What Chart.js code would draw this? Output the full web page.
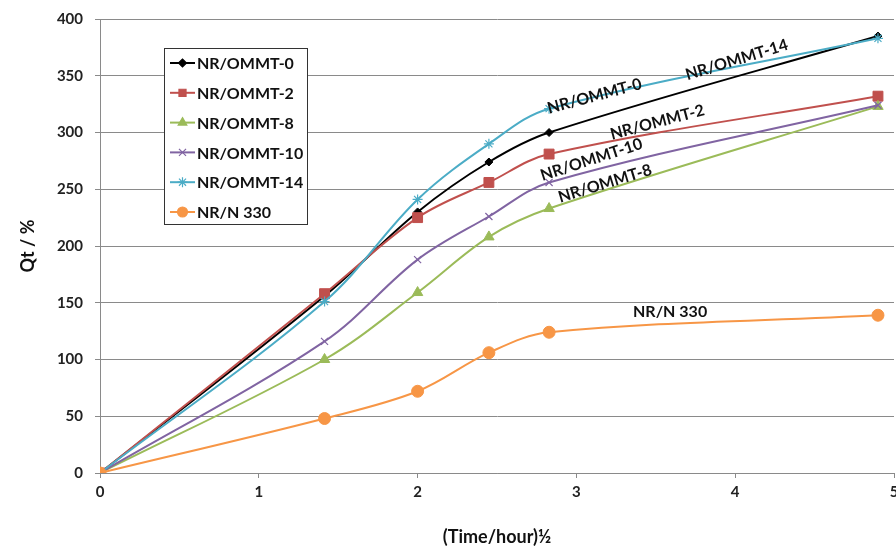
<!DOCTYPE html>
<html>
<head>
<meta charset="utf-8">
<script src="https://cdn.jsdelivr.net/npm/chart.js@4/dist/chart.umd.min.js"></script>
<style>
  html, body { margin: 0; padding: 0; background: #ffffff; overflow: hidden; }
  #wrap { width: 896px; height: 548px; position: relative; overflow: hidden; }
  #c { position: absolute; left: 0; top: 0; }
</style>
</head>
<body>
<div id="wrap"><canvas id="c" width="902" height="548"></canvas></div>
<script>
// ---- data ----
const xValues = [0, 1.414, 2, 2.449, 2.828, 4.899];
const seriesNames = ["NR/OMMT-0", "NR/OMMT-2", "NR/OMMT-8", "NR/OMMT-10", "NR/OMMT-14", "NR/N 330"];
const ommt0  = [0, 156, 230, 274, 300, 385];
const ommt2  = [0, 158, 225, 256, 281, 332];
const ommt8  = [0, 100, 159, 208, 233, 323];
const ommt10 = [0, 116, 188, 226, 256, 324];
const ommt14 = [0, 151, 241, 290, 321, 383];
const n330   = [0, 48, 72, 106, 124, 139];
const yTicks = [0, 50, 100, 150, 200, 250, 300, 350, 400];
const xTicks = [0, 1, 2, 3, 4, 5];
// in-chart labels (data coordinates)
const noteTexts = ["NR/OMMT-14", "NR/OMMT-0", "NR/OMMT-2", "NR/OMMT-10", "NR/OMMT-8", "NR/N 330"];
const noteX     = [4.01, 3.114, 3.51, 3.095, 3.18, 3.59];
const noteY     = [364, 332, 309, 276, 255, 142];
const noteAngle = [-17, -15, -15, -18, -17, 0];

// ---- styles ----
const colors = ["#000000", "#C0504D", "#9BBB59", "#8064A2", "#4BACC6", "#F79646"];
const styles = ["rectRot", "rect", "triangle", "crossRot", "star", "circle"];
const radii  = [4, 7, 6, 5, 5, 6];
const values = [ommt0, ommt2, ommt8, ommt10, ommt14, n330];

const datasets = values.map((vals, i) => ({
  label: seriesNames[i],
  data: xValues.map((x, j) => ({ x: x, y: vals[j] })),
  borderColor: colors[i],
  backgroundColor: colors[i],
  pointBackgroundColor: colors[i],
  pointBorderColor: colors[i],
  pointStyle: styles[i],
  pointRadius: radii[i],
  pointBorderWidth: (styles[i] === "crossRot" || styles[i] === "star") ? 1.2 : 1,
  borderWidth: 2,
  tension: 0.35,
  fill: false,
  order: 6 - i
}));

const FONT = "Lato, 'Open Sans', 'DejaVu Sans', sans-serif";

const notesPlugin = {
  id: "notes",
  afterDatasetsDraw(chart) {
    const ctx = chart.ctx;
    const xs = chart.scales.x, ys = chart.scales.y;
    ctx.save();
    ctx.font = "bold 16px " + FONT;
    ctx.fillStyle = "#111";
    ctx.textAlign = "center";
    ctx.textBaseline = "middle";
    noteTexts.forEach((t, i) => {
      const px = xs.getPixelForValue(noteX[i]);
      const py = ys.getPixelForValue(noteY[i]);
      ctx.save();
      ctx.translate(px, py);
      ctx.rotate(noteAngle[i] * Math.PI / 180);
      ctx.fillText(t, 0, 0);
      ctx.restore();
    });
    ctx.restore();
  }
};

const legendPlugin = {
  id: "boxLegend",
  afterDatasetsDraw(chart) {
    const ctx = chart.ctx;
    const bx = 164, by = 48, bw = 143, bh = 176;
    ctx.save();
    ctx.fillStyle = "#ffffff";
    ctx.fillRect(bx, by, bw, bh);
    ctx.strokeStyle = "#333";
    ctx.lineWidth = 1;
    ctx.strokeRect(bx + 0.5, by + 0.5, bw, bh);
    seriesNames.forEach((name, i) => {
      const cy = by + 15 + i * 29.8;
      ctx.strokeStyle = colors[i];
      ctx.lineWidth = 2;
      ctx.beginPath();
      ctx.moveTo(bx + 6, cy);
      ctx.lineTo(bx + 31, cy);
      ctx.stroke();
      ctx.fillStyle = colors[i];
      ctx.strokeStyle = colors[i];
      ctx.lineWidth = 1.2;
      Chart.helpers.drawPoint(ctx, {
        pointStyle: styles[i],
        radius: Math.min(radii[i], 5),
        rotation: 0,
        borderWidth: 1.2
      }, bx + 18.5, cy);
      ctx.fillStyle = "#111";
      ctx.font = "bold 16px " + FONT;
      ctx.textAlign = "left";
      ctx.textBaseline = "middle";
      ctx.fillText(name, bx + 33, cy + 1);
    });
    ctx.restore();
  }
};

new Chart(document.getElementById("c"), {
  type: "line",
  data: { datasets: datasets },
  options: {
    responsive: false,
    animation: false,
    devicePixelRatio: 1,
    layout: { padding: { left: 0, top: 19, right: 4, bottom: 0 } },
    plugins: {
      legend: { display: false },
      tooltip: { enabled: false }
    },
    scales: {
      x: {
        type: "linear",
        min: 0, max: 5,
        afterFit(s) { s.height = 75; s.paddingLeft = 0; s.paddingRight = 0; },
        afterBuildTicks(s) { s.ticks = xTicks.map(v => ({ value: v })); },
        grid: { drawOnChartArea: false, drawTicks: true, tickLength: 5, color: "#8a8a8a" },
        border: { color: "#8a8a8a", width: 1 },
        ticks: { padding: 5, color: "#222", font: { family: FONT, size: 15, weight: "bold" }, maxRotation: 0 },
        title: { display: true, text: "(Time/hour)½", color: "#111", padding: { top: 0, bottom: 0 },
                 font: { family: FONT, size: 18, weight: "bold" } }
      },
      y: {
        min: 0, max: 400,
        afterFit(s) { s.width = 100; s.paddingTop = 0; s.paddingBottom = 0; },
        afterBuildTicks(s) { s.ticks = yTicks.map(v => ({ value: v })); },
        grid: { color: "#8a8a8a", lineWidth: 1, tickLength: 5 },
        border: { color: "#8a8a8a", width: 1 },
        ticks: { padding: 12, color: "#222", font: { family: FONT, size: 15, weight: "bold" } },
        title: { display: true, text: "Qt / %", color: "#111", padding: { top: 17, bottom: 0 },
                 font: { family: FONT, size: 18, weight: "bold" } }
      }
    }
  },
  plugins: [notesPlugin, legendPlugin]
});
</script>
</body>
</html>
